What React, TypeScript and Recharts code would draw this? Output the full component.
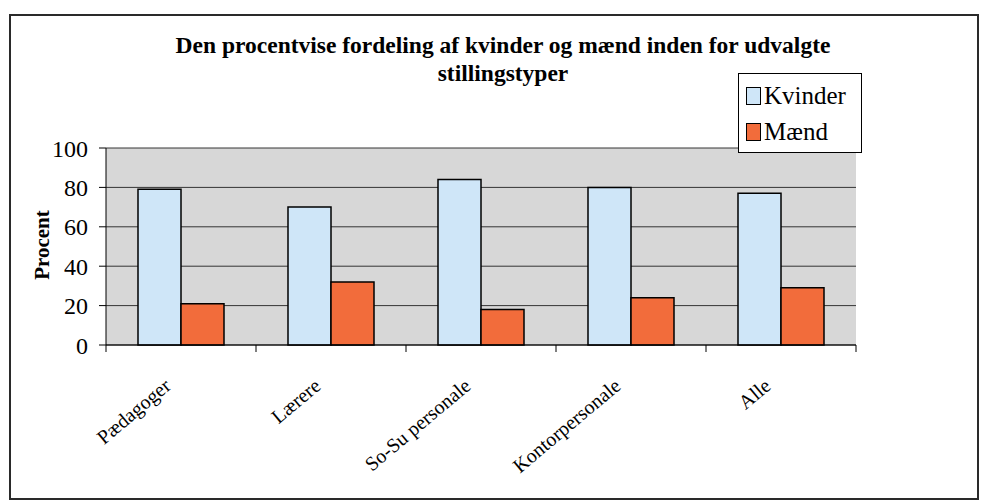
import { BarChart, Bar, XAxis, YAxis, CartesianGrid } from 'recharts'

const categories = ['Pædagoger', 'Lærere', 'So-Su personale', 'Kontorpersonale', 'Alle']
const kvinder = [79, 70, 84, 80, 77]
const maend = [21, 32, 18, 24, 29]
const yTicks = [0, 20, 40, 60, 80, 100]

const data = categories.map((name, i) => ({ name, Kvinder: kvinder[i], Mænd: maend[i] }))

const serif = '"Liberation Serif", "Times New Roman", serif'
const blue = '#cfe6f8'
const orange = '#f26c3b'

function CategoryTick(props: any) {
  const { x, y, payload, index, visibleTicksCount } = props
  const half = payload && payload.offset ? payload.offset : 0
  const last = index === visibleTicksCount - 1
  return (
    <g>
      <line x1={x - half} y1={y - 8} x2={x - half} y2={y - 1} stroke="#000" />
      {last && <line x1={x + half} y1={y - 8} x2={x + half} y2={y - 1} stroke="#000" />}
      <text
        transform={`translate(${x - 9},${y + 35}) rotate(-40)`}
        textAnchor="end"
        fontFamily={serif}
        fontSize={20}
        fill="#000"
      >
        {payload.value}
      </text>
    </g>
  )
}

function LegendBox() {
  const items = [
    { label: 'Kvinder', color: blue },
    { label: 'Mænd', color: orange }
  ]
  return (
    <div
      style={{
        position: 'absolute',
        left: 738,
        top: 73,
        border: '1px solid #000',
        background: '#fff',
        width: 124,
        height: 80,
        boxSizing: 'border-box',
        padding: '4px 0 0 7px',
        fontFamily: serif,
        fontSize: 25,
        color: '#000'
      }}
    >
      {items.map((it) => (
        <div key={it.label} style={{ display: 'flex', alignItems: 'center', height: 36 }}>
          <span
            style={{
              display: 'inline-block',
              width: 13,
              height: 16,
              background: it.color,
              border: '1.5px solid #000',
              marginRight: 3
            }}
          />
          <span>{it.label}</span>
        </div>
      ))}
    </div>
  )
}

export default function App() {
  return (
    <div style={{ position: 'absolute', left: 0, top: 0, width: 982, height: 502, background: '#fff' }}>
      <div
        style={{
          position: 'absolute',
          left: 9,
          top: 14,
          width: 966,
          height: 482,
          border: '2px solid #2a2a2a'
        }}
      />
      <div
        style={{
          position: 'absolute',
          left: 0,
          top: 31,
          width: 1006,
          textAlign: 'center',
          fontFamily: serif,
          fontWeight: 'bold',
          fontSize: 23.5,
          lineHeight: '28px',
          color: '#000'
        }}
      >
        Den procentvise fordeling af kvinder og mænd inden for udvalgte
        <br />
        stillingstyper
      </div>
      <div
        style={{
          position: 'absolute',
          left: 42,
          top: 245,
          transform: 'translate(-50%, -50%) rotate(-90deg)',
          fontFamily: serif,
          fontWeight: 'bold',
          fontSize: 21,
          color: '#000',
          whiteSpace: 'nowrap'
        }}
      >
        Procent
      </div>
      <div style={{ position: 'absolute', left: 0, top: 0 }}>
        <BarChart
          width={982}
          height={502}
          data={data}
          margin={{ top: 148, right: 126, left: 40, bottom: 57 }}
          barGap={0}
          barSize={43}
        >
          <CartesianGrid vertical={false} fill="#d7d7d7" stroke="#222" strokeOpacity={0.9} />
          <XAxis
            dataKey="name"
            height={100}
            stroke="#000"
            tickLine={false}
            interval={0}
            tick={<CategoryTick />}
          />
          <YAxis
            width={66}
            domain={[0, 100]}
            ticks={yTicks}
            stroke="#000"
            tickSize={7}
            tickMargin={11}
            tick={{ fill: '#000', fontFamily: serif, fontSize: 24 }}
          />
          <YAxis
            yAxisId="right"
            orientation="right"
            width={0}
            domain={[0, 100]}
            tick={false}
            tickLine={false}
            stroke="#555"
          />
          <Bar dataKey="Kvinder" fill={blue} stroke="#000" strokeWidth={1.5} isAnimationActive={false} />
          <Bar dataKey="Mænd" fill={orange} stroke="#000" strokeWidth={1.5} isAnimationActive={false} />
        </BarChart>
      </div>
      <LegendBox />
    </div>
  )
}
